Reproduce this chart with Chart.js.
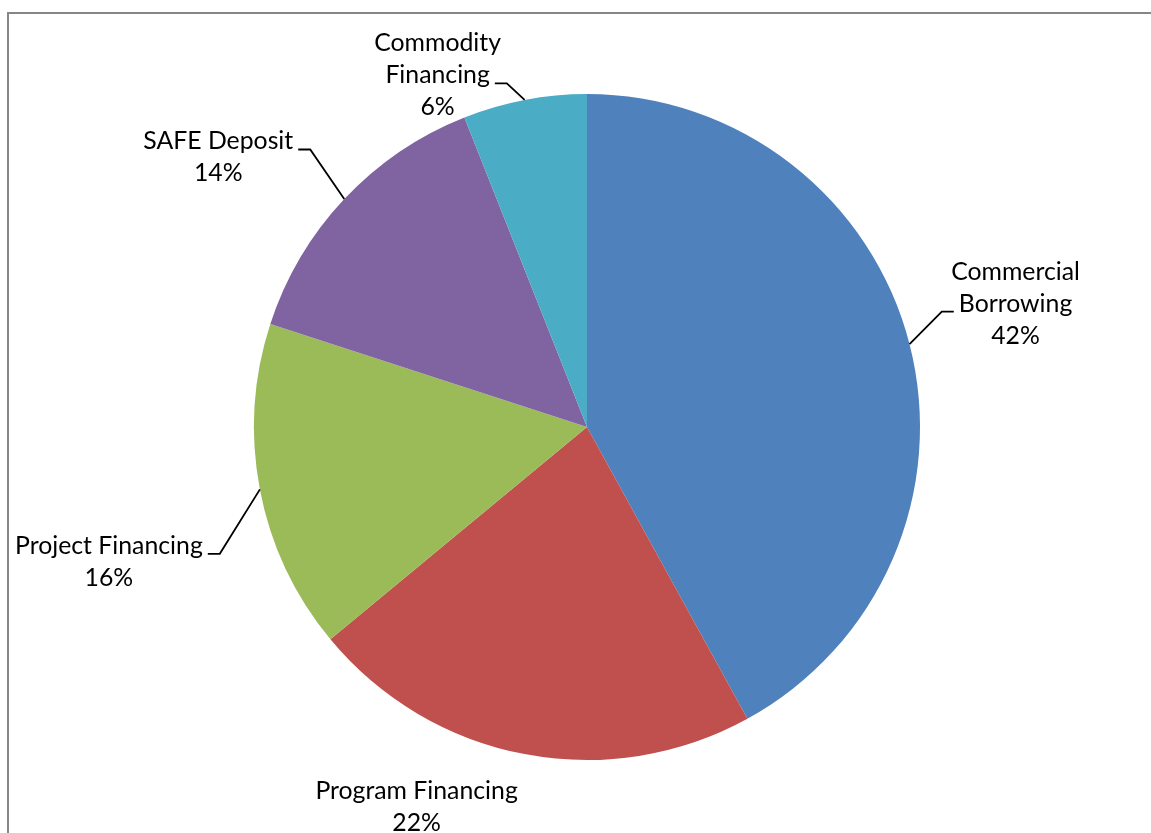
<!DOCTYPE html>
<html>
<head>
<meta charset="utf-8">
<script src="https://cdn.jsdelivr.net/npm/chart.js@4.4.1/dist/chart.umd.min.js"></script>
<style>
  html, body { margin: 0; padding: 0; background: #fff; overflow: hidden; }
  canvas { display: block; }
</style>
</head>
<body>
<canvas id="sources" width="1151" height="833"></canvas>
<script>
const categories = ["Commercial Borrowing", "Program Financing", "Project Financing", "SAFE Deposit", "Commodity Financing"];
const shares = [42, 22, 16, 14, 6];
const sliceColors = ["#4F81BD", "#C0504D", "#9BBB59", "#8064A2", "#4BACC6"];

// how each category name wraps in its label
const labelLines = [
  ["Commercial", "Borrowing"],
  ["Program Financing"],
  ["Project Financing"],
  ["SAFE Deposit"],
  ["Commodity", "Financing"]
];

// label block centre, relative to the middle of the slice's outer edge
const labelPlacement = [
  { dx: 106, dy: -41, leader: true },
  { dx: -108, dy: 52, leader: false },
  { dx: -151, dy: 72, leader: true },
  { dx: -126, dy: -42, leader: true },
  { dx: -87, dy: -25, leader: true }
];

const FONT_SIZE = 24.8;
const LINE_H = 32;

const frame = {
  id: "frame",
  beforeDraw(chart) {
    const ctx = chart.ctx;
    ctx.save();
    ctx.strokeStyle = "#868686";
    ctx.lineWidth = 2;
    ctx.strokeRect(8, 13, 2000, 2000);
    ctx.restore();
  }
};

const sliceLabels = {
  id: "sliceLabels",
  afterDatasetsDraw(chart) {
    const ctx = chart.ctx;
    const total = shares.reduce((a, b) => a + b, 0);
    ctx.save();
    ctx.font = FONT_SIZE + "px Lato, 'Open Sans', sans-serif";
    ctx.fillStyle = "#000";
    ctx.strokeStyle = "#000";
    ctx.lineWidth = 1.8;
    ctx.textAlign = "center";
    ctx.textBaseline = "alphabetic";

    chart.getDatasetMeta(0).data.forEach((arc, i) => {
      const p = arc.getProps(["x", "y", "startAngle", "endAngle", "outerRadius"], true);
      const mid = (p.startAngle + p.endAngle) / 2;
      const ax = p.x + Math.cos(mid) * p.outerRadius;
      const ay = p.y + Math.sin(mid) * p.outerRadius;
      const place = labelPlacement[i];
      const cx = ax + place.dx;
      const cy = ay + place.dy;
      const lines = labelLines[i].concat([Math.round(shares[i] / total * 100) + "%"]);
      const n = lines.length;
      const baselines = lines.map((_, k) => cy + (k - (n - 1) / 2) * LINE_H + FONT_SIZE * 0.34);

      lines.forEach((t, k) => ctx.fillText(t, cx, baselines[k]));

      if (place.leader) {
        const j = Math.floor((n - 1) / 2);
        const w = ctx.measureText(lines[j]).width;
        const ly = baselines[j];
        const dir = ax > cx ? 1 : -1;
        const x0 = cx + dir * (w / 2 + 5);
        const x1 = x0 + dir * 12;
        ctx.beginPath();
        ctx.moveTo(x0, ly);
        ctx.lineTo(x1, ly);
        ctx.lineTo(ax, ay);
        ctx.stroke();
      }
    });
    ctx.restore();
  }
};

new Chart(document.getElementById("sources"), {
  type: "pie",
  data: {
    labels: categories,
    datasets: [{
      data: shares,
      backgroundColor: sliceColors,
      borderWidth: 0
    }]
  },
  options: {
    responsive: false,
    animation: false,
    layout: { padding: { left: 254, right: 231, top: 94, bottom: 73 } },
    plugins: {
      legend: { display: false },
      tooltip: { enabled: false }
    }
  },
  plugins: [frame, sliceLabels]
});
</script>
</body>
</html>
